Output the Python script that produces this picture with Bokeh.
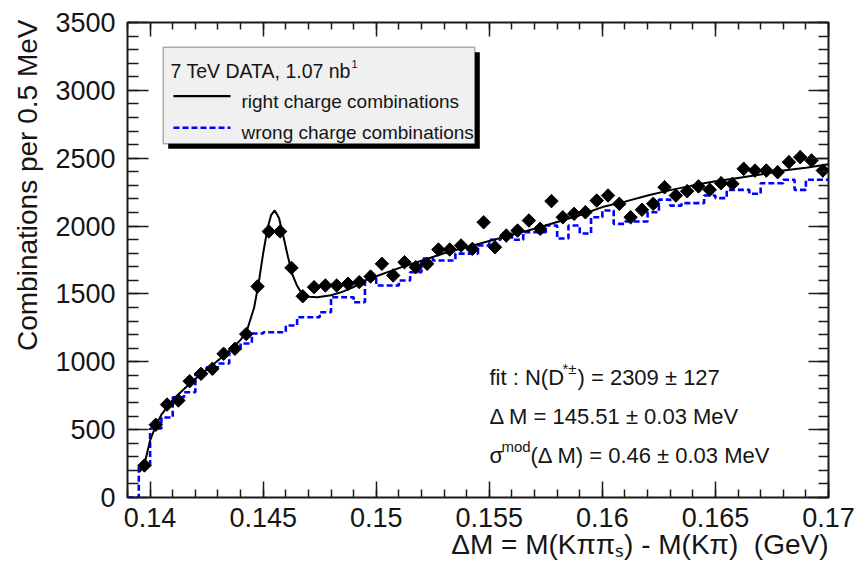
import numpy as np
from bokeh.plotting import figure
from bokeh.models import (Range1d, LinearAxis, FixedTicker, CustomJSTickFormatter,
                          Label, BoxAnnotation, Title)
from bokeh.embed import file_html
from bokeh.resources import INLINE

# ---------------- data ----------------
bin_centers = [0.13975, 0.14025, 0.14075, 0.14125, 0.14175, 0.14225, 0.14275, 0.14325,
               0.14375, 0.14425, 0.14475, 0.14525, 0.14575, 0.14625, 0.14675, 0.14725,
               0.14775, 0.14825, 0.14875, 0.14925, 0.14975, 0.15025, 0.15075, 0.15125,
               0.15175, 0.15225, 0.15275, 0.15325, 0.15375, 0.15425, 0.15475, 0.15525,
               0.15575, 0.15625, 0.15675, 0.15725, 0.15775, 0.15825, 0.15875, 0.15925,
               0.15975, 0.16025, 0.16075, 0.16125, 0.16175, 0.16225, 0.16275, 0.16325,
               0.16375, 0.16425, 0.16475, 0.16525, 0.16575, 0.16625, 0.16675, 0.16725,
               0.16775, 0.16825, 0.16875, 0.16925, 0.16975]
bin_width = 0.0005

right_charge = [236, 536, 685, 715, 857, 911, 948, 1059, 1096, 1204, 1555, 1960, 1960,
                1692, 1483, 1550, 1562, 1562, 1575, 1587, 1628, 1722, 1636, 1734, 1697,
                1722, 1827, 1827, 1857, 1832, 2028, 1844, 1930, 1967, 2041, 1980, 2184,
                2065, 2090, 2102, 2188, 2225, 2164, 2065, 2120, 2164, 2286, 2225, 2257,
                2292, 2267, 2316, 2311, 2422, 2409, 2409, 2397, 2471, 2508, 2483, 2409]

wrong_charge = [230, 508, 590, 739, 776, 913, 960, 987, 1083, 1135, 1208, 1218, 1218,
                1267, 1328, 1328, 1365, 1476, 1476, 1439, 1613, 1562, 1562, 1599, 1660,
                1761, 1746, 1746, 1797, 1797, 1857, 1899, 1943, 1899, 1955, 1955, 2004,
                1908, 2004, 1945, 2065, 2115, 2016, 2034, 2034, 2102, 2195, 2151, 2169,
                2169, 2225, 2206, 2267, 2267, 2238, 2316, 2316, 2341, 2267, 2341, 2341]

fit_x = [0.13955, 0.1398, 0.1400, 0.14025, 0.1405, 0.1410, 0.1415, 0.1420, 0.1425,
         0.1430, 0.1435, 0.1440, 0.1443, 0.1446, 0.1448, 0.1450, 0.1452, 0.14535,
         0.14551, 0.1457, 0.1459, 0.1461, 0.1463, 0.1465, 0.1467, 0.1470, 0.1474,
         0.1480, 0.1485, 0.1490, 0.1495, 0.1500, 0.1510, 0.1520, 0.1530, 0.1540,
         0.1550, 0.1560, 0.1570, 0.1580, 0.1590, 0.1600, 0.1610, 0.1620, 0.1630,
         0.1640, 0.1650, 0.1660, 0.1670, 0.1680, 0.1690, 0.1700]
fit_y = [190, 280, 420, 530, 610, 720, 800, 875, 940, 1010, 1080, 1160, 1240, 1400,
         1580, 1800, 1990, 2080, 2115, 2060, 1920, 1770, 1640, 1560, 1505, 1480, 1475,
         1490, 1515, 1550, 1600, 1630, 1690, 1745, 1800, 1845, 1890, 1935, 1980, 2030,
         2080, 2140, 2180, 2225, 2265, 2300, 2330, 2355, 2380, 2410, 2430, 2455]

x_major_ticks = [0.14, 0.145, 0.15, 0.155, 0.16, 0.165, 0.17]
y_major_ticks = [0, 500, 1000, 1500, 2000, 2500, 3000, 3500]
x_title = "\u0394M = M(K\u03c0\u03c0\u209b) - M(K\u03c0)\u00a0\u00a0(GeV)"
y_title = "Combinations per 0.5 MeV"

X0, X1 = 0.139, 0.17
Y0, Y1 = 0, 3500

# ---------------- geometry helpers (page pixels -> data, for annotations) ----------------
FL, FT, FW, FH = 126, 22, 701, 475


def px2x(px):
    return X0 + (px - FL) / FW * (X1 - X0)


def py2y(py):
    return Y0 + (FT + FH - py) / FH * (Y1 - Y0)


FONT = "Liberation Sans"
TXT = "#151515"

p = figure(frame_width=FW, frame_height=FH,
           min_border_left=FL, min_border_right=28, min_border_top=FT, min_border_bottom=67,
           x_range=Range1d(X0, X1 + 1e-7), y_range=Range1d(Y0, Y1 + 0.01),
           x_axis_type=None, y_axis_type=None,
           output_backend="svg", toolbar_location=None)
p.xgrid.visible = False
p.ygrid.visible = False
p.outline_line_color = "#1a1a1a"
p.outline_line_width = 2
p.background_fill_color = "white"
p.border_fill_color = "white"

x_minor = [round(v, 4) for v in np.arange(0.139, 0.17001, 0.001)]
y_minor = list(range(0, 3501, 100))
xticker = FixedTicker(ticks=x_major_ticks, minor_ticks=x_minor)
yticker = FixedTicker(ticks=y_major_ticks, minor_ticks=y_minor)


def style_axis(ax, major_in, minor_in, show_labels, standoff=11):
    ax.axis_line_color = None
    ax.major_tick_in = major_in
    ax.major_tick_out = 0
    ax.minor_tick_in = minor_in
    ax.minor_tick_out = 0
    ax.major_tick_line_color = "#1a1a1a"
    ax.minor_tick_line_color = "#1a1a1a"
    ax.major_tick_line_width = 1.5
    ax.minor_tick_line_width = 1.5
    if show_labels:
        ax.major_label_text_font = FONT
        ax.major_label_text_font_size = "27px"
        ax.major_label_text_color = TXT
        ax.major_label_standoff = standoff
    else:
        ax.formatter = CustomJSTickFormatter(code="return '';")
        ax.major_label_standoff = 0
        ax.major_label_text_font_size = "1px"


xb = LinearAxis(ticker=xticker,
                formatter=CustomJSTickFormatter(code="return String(Math.round(tick*1000)/1000);"))
style_axis(xb, 16, 8, True, standoff=10)
p.add_layout(xb, "below")

xt = LinearAxis(ticker=xticker)
style_axis(xt, 14, 7, False)
p.add_layout(xt, "above")

yl = LinearAxis(ticker=yticker)
style_axis(yl, 21, 11, True, standoff=12)
p.add_layout(yl, "left")

yr = LinearAxis(ticker=yticker)
style_axis(yr, 20, 10, False)
p.add_layout(yr, "right")

# axis titles (right / top aligned as in the original)
p.add_layout(Title(text=x_title, align="right", text_font=FONT, text_font_size="28px",
                   text_font_style="normal", text_color=TXT, standoff=-6, offset=0), "below")
p.add_layout(Title(text=y_title, align="right", text_font=FONT, text_font_size="28px",
                   text_font_style="normal", text_color=TXT, standoff=19, offset=-3), "left")

# ---------------- wrong-charge histogram (blue dashed steps) ----------------
edges = [c - bin_width / 2 for c in bin_centers] + [bin_centers[-1] + bin_width / 2]
step_x = [X0] + edges
step_y = [0] + wrong_charge + [wrong_charge[-1]]
p.step(step_x, step_y, mode="after", line_color="#0000ff", line_width=2.6,
       line_dash="6 3")

# ---------------- fit curve ----------------
p.line(fit_x, fit_y, line_color="#000000", line_width=2)

# ---------------- data points ----------------
xc = np.array(bin_centers)
yc = np.array(right_charge, dtype=float)
err = np.sqrt(yc)
p.segment(xc, yc - err, xc, yc + err, line_color="black", line_width=1.5)
p.segment(xc - bin_width / 2, yc, xc + bin_width / 2, yc, line_color="black", line_width=1.5)
p.scatter(xc, yc, marker="square", size=9.5, angle=np.pi / 4, fill_color="black",
          line_color="black")

# ---------------- legend box ----------------
shadow = BoxAnnotation(left=px2x(166.7), right=px2x(478.3), top=py2y(51.7), bottom=py2y(148.3),
                       fill_color="black", fill_alpha=1, line_color=None)
box = BoxAnnotation(left=px2x(161.7), right=px2x(473.3), top=py2y(46.7), bottom=py2y(143.3),
                    fill_color="#f0f0f0", fill_alpha=1, line_color="black", line_width=1.5)
p.add_layout(shadow)
p.add_layout(box)

r1 = p.segment([px2x(172)], [py2y(95.7)], [px2x(229)], [py2y(95.7)], line_color="black",
               line_width=2.2)
r2 = p.segment([px2x(172)], [py2y(127.3)], [px2x(229)], [py2y(127.3)], line_color="#0000ff",
               line_width=2.6, line_dash="6 3")
r1.level = "overlay"
r2.level = "overlay"


def lab(text, px, py, size, align="left"):
    p.add_layout(Label(x=px2x(px), y=py2y(py), text=text, text_font=FONT,
                       text_font_size=f"{size}px", text_color=TXT, text_align=align,
                       text_baseline="alphabetic"))


lab("7 TeV DATA, 1.07 nb", 169, 70, 19.5)
lab("1", 350, 63, 11)
lab("right charge combinations", 240, 101, 19)
lab("wrong charge combinations", 240, 132, 19)

# fit results
lab("fit : N(D", 488, 377, 22)
lab("*\u00b1", 561, 368, 15)
lab(") = 2309 \u00b1 127", 576, 377, 22)
lab("\u0394 M = 145.51 \u00b1 0.03 MeV", 488, 416, 22)
lab("\u03c3", 488, 455, 22)
lab("mod", 500, 446, 15)
lab("(\u0394 M) = 0.46 \u00b1 0.03 MeV", 529, 455, 22)

open("out.html", "w").write(file_html(p, INLINE))
